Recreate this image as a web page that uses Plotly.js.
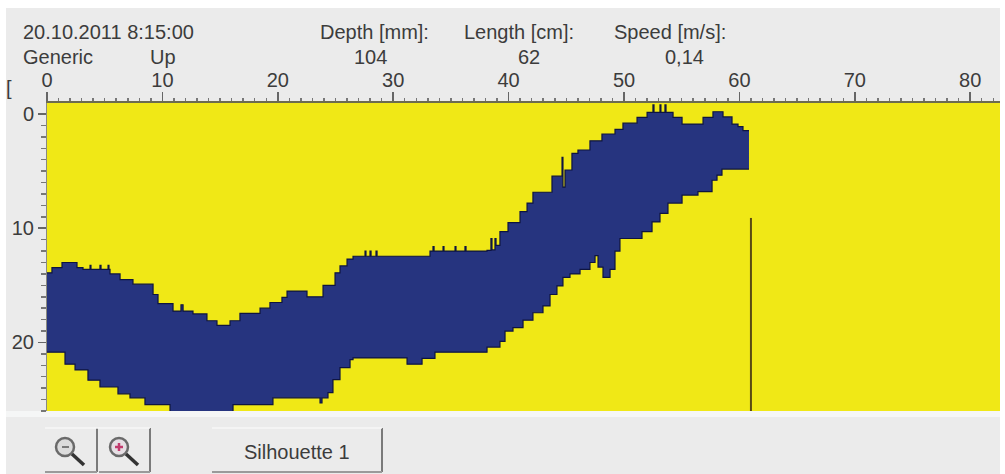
<!DOCTYPE html>
<html>
<head>
<meta charset="utf-8">
<script src="https://cdn.plot.ly/plotly-3.0.1.min.js"></script>
<style>html,body{margin:0;padding:0;background:#fff;overflow:hidden}#chart{width:1005px;height:474px}</style>
</head>
<body>
<div id="chart"></div>
<script>
// Silhouette outline (length cm, depth cm)
const topX = [0,.43,1.3,2.6,3.12,3.73,3.81,4.59,4.68,5.29,5.37,5.46,6.33,7.45,9.19,9.62,10.92,11.61,11.79,12.65,13.86,14.73,15.86,16.72,18.46,19.32,20.36,20.8,22.53,23.92,24.96,25.39,26,26.52,27.56,27.64,27.99,28.08,28.51,28.6,33.19,33.45,33.54,34.32,34.4,35.36,35.44,36.22,36.31,38.13,38.47,38.56,38.82,38.91,39.25,39.95,40.99,41.6,42.11,43.76,44.63,44.71,44.89,45.49,46.01,47.05,48.09,49.22,49.91,51.13,52,52.51,52.6,53.12,53.2,53.55,53.64,54.25,55.03,56.85,57.71,58.58,59.36,59.88,60.31,60.83];
const topY = [13.9,13.45,13,13.45,13.6,13.25,13.6,13.25,13.6,13.25,13.6,14,14.5,14.9,15.8,16.6,17.25,16.7,17.25,17.5,18.1,18.5,18.1,17.45,17,16.5,16.05,15.5,16,15,13.9,13.3,12.7,12.45,12,12.45,12,12.45,12,12.45,12,11.6,12,11.6,12,11.6,12,11.6,12,11.93,10.9,11.9,10.9,11.5,10.3,9.5,8.55,7.8,6.85,5.44,3.8,6.4,4.9,3.45,3.15,2.35,1.75,1.35,.8,.3,-.15,-.8,-.15,-.8,-.15,-.8,-.15,.3,.88,.3,-.2,.25,.88,1.1,1.46,1.46];
const botX = [0,1.56,2.43,3.55,4.59,6.15,7.19,8.49,10.66,16.12,19.58,23.66,23.83,24.35,24.78,25.39,26.26,26.52,31.2,32.5,33.62,38.13,39.25,39.69,40.38,41.25,42.11,42.98,43.59,44.19,44.71,45.32,46.19,47.05,47.49,47.75,48.18,48.79,49.22,49.65,51.56,52.43,53.12,53.81,55.03,56.41,57.63,58.06,58.49,60.83];
const botY = [20.85,21.9,22.4,23.3,23.9,24.5,24.85,25.45,26.4,25.45,24.85,25.3,24.85,24.4,23.25,22.2,21.5,21.35,21.9,21.4,20.85,20.4,19.9,19,18.7,18.05,17.4,16.8,15.8,15.05,14.3,14,13.6,13,12.4,13.4,14.3,13.6,12,10.9,10.3,9.45,8.7,7.8,7.1,6.8,5.8,5.35,4.82,4.82];
const markerX = [61,61];
const markerY = [9.1,26];
const xTicks = [0,10,20,30,40,50,60,70,80];
const yTicks = [0,10,20];

const W = 1005, H = 474, L = 47, R = 1000, T = 103, B = 411;
const px = x => (x - L) / (R - L);
const py = y => (B - y) / (B - T);
const txt = (text, x, y, xanchor) => ({text, x: px(x), y: py(y), xref:'paper', yref:'paper', xanchor: xanchor || 'center', yanchor:'middle', showarrow:false, font:{family:'"Liberation Sans", Arial, sans-serif', size:20, color:'#3c3c3c'}});
const rect = (x0,y0,x1,y1,fill,layer) => ({type:'rect', xref:'paper', yref:'paper', x0:px(x0), x1:px(x1), y0:py(y0), y1:py(y1), fillcolor:fill, line:{width:0}, layer:layer||'below'});
const seg = (x0,y0,x1,y1,color,w) => ({type:'line', xref:'paper', yref:'paper', x0:px(x0), x1:px(x1), y0:py(y0), y1:py(y1), line:{color, width:w}});
const circ = (cx,cy,r,color,w,fill) => ({type:'circle', xref:'paper', yref:'paper', x0:px(cx-r), x1:px(cx+r), y0:py(cy-r), y1:py(cy+r), line:{color, width:w}, fillcolor:fill||'rgba(0,0,0,0)'});

const shapes = [
  rect(6,8,1000,474,'#ebebeb'),
  rect(L,T,R,B,'#f0e816'),
  rect(6,411,1000,417,'#f5f6f6'),
  seg(97,428,97,472,'#7a7a7a',2), seg(45,472,97,472,'#9a9a9a',2),
  seg(150,428,150,472,'#7a7a7a',2), seg(99,472,150,472,'#9a9a9a',2),
  seg(382,428,382,472,'#7a7a7a',2), seg(212,472,382,472,'#9a9a9a',2),
  seg(212,428,382,428,'#f7f7f7',1.5), seg(45,428,150,428,'#f7f7f7',1.5),
  circ(65,447,9,'#6a6a6a',2.5,'#dcdcdc'), seg(62,447,69,447,'#7a7a7a',2), seg(72,454,84,465,'#333333',3.5),
  circ(119,447,9,'#6a6a6a',2.5,'#e6dfe4'), seg(115,447,123,447,'#c23b6e',2.5), seg(119,443,119,451,'#c23b6e',2.5), seg(126,454,138,465,'#333333',3.5)
];

const annotations = [
  txt('20.10.2011 8:15:00',21,32,'left'),
  txt('Generic',21,57,'left'),
  txt('Up',163,57),
  txt('Depth [mm]:',374,32),
  txt('104',370,57),
  txt('Length [cm]:',519,32),
  txt('62',529,57),
  txt('Speed [m/s]:',670,32),
  txt('0,14',684,57),
  txt('[',9,88),
  txt('Silhouette 1',297,452)
];

const outline = '#0e1440';
const traces = [
  {x:botX, y:botY, mode:'lines', line:{shape:'hv', color:outline, width:1.2}, hoverinfo:'skip', showlegend:false},
  {x:topX, y:topY, mode:'lines', line:{shape:'hv', color:outline, width:1.2}, fill:'tonexty', fillcolor:'#26347f', hoverinfo:'skip', showlegend:false},
  {x:markerX, y:markerY, mode:'lines', line:{color:'#5a4a12', width:2}, hoverinfo:'skip', showlegend:false}
];

const tickFont = {family:'"Liberation Sans", Arial, sans-serif', size:20, color:'#3c3c3c'};
const layout = {
  width:W, height:H, margin:{l:L, r:W-R, t:T, b:H-B, pad:0},
  paper_bgcolor:'#ffffff', plot_bgcolor:'#f0e816', showlegend:false,
  xaxis:{side:'top', range:[0,(R-L)/11.54], tickmode:'array', tickvals:xTicks, ticktext:xTicks.map(String), ticks:'outside', ticklen:9, tickwidth:1.5, tickcolor:'#666', showgrid:false, zeroline:false, showline:true, linecolor:'#6b6b50', linewidth:2, tickfont:tickFont, ticklabelstandoff:-3, minor:{dtick:1, ticks:'outside', ticklen:3, tickwidth:1.5, tickcolor:'#777', showgrid:false}},
  yaxis:{range:[26,-(114-T)/11.4], tickmode:'array', tickvals:yTicks, ticktext:yTicks.map(String), ticks:'outside', ticklen:8, tickwidth:1.5, tickcolor:'#666', showgrid:false, zeroline:false, showline:true, linecolor:'#8a8a80', linewidth:1, tickfont:tickFont, minor:{dtick:1, ticks:'outside', ticklen:5, tickwidth:1.5, tickcolor:'#777', showgrid:false}},
  shapes, annotations
};
Plotly.newPlot('chart', traces, layout, {displayModeBar:false, staticPlot:true});
</script>
</body>
</html>
